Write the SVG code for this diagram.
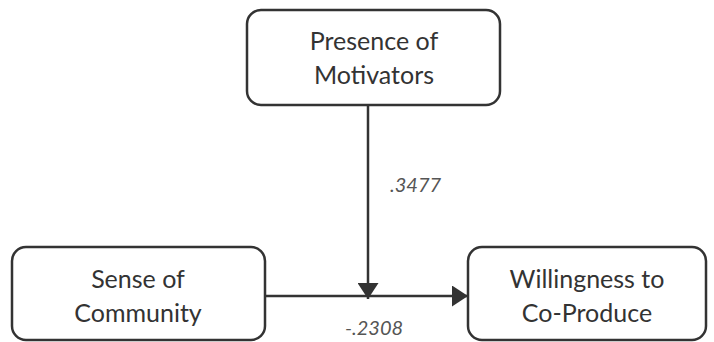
<svg xmlns="http://www.w3.org/2000/svg" width="714" height="342" viewBox="0 0 714 342">
  <defs>
    <style>
      .box { fill: #ffffff; stroke: #333333; stroke-width: 2.5; }
      .label { font-family: Lato, "Liberation Sans", sans-serif; font-size: 25px; fill: #333333; text-anchor: middle; }
      .coef { font-family: Lato, "Liberation Sans", sans-serif; font-size: 20px; font-style: italic; fill: #555555; }
      .edge { fill: none; stroke: #333333; stroke-width: 2.5; }
    </style>
    <marker id="arrow" viewBox="0 0 16 21" refX="16" refY="10.5" markerWidth="16" markerHeight="21" markerUnits="userSpaceOnUse" orient="auto">
      <path d="M0,0 L16,10.5 L0,21 Z" fill="#333333"/>
    </marker>
  </defs>
  <rect width="714" height="342" fill="#ffffff"/>

  <g id="connectors">
    <path class="edge" d="M265,296 H468" marker-end="url(#arrow)"/>
    <path class="edge" d="M368,106 V299" marker-end="url(#arrow)"/>
    <text class="coef" x="390" y="192">.3477</text>
    <text class="coef" x="345" y="335">-.2308</text>
  </g>

  <g id="node-motivators">
    <rect class="box" x="247" y="10" width="253" height="95" rx="14"/>
    <text class="label" x="374" y="50">Presence of</text>
    <text class="label" x="374" y="84">Motivators</text>
  </g>

  <g id="node-community">
    <rect class="box" x="12" y="247" width="253" height="93" rx="14"/>
    <text class="label" x="138" y="288">Sense of</text>
    <text class="label" x="138" y="322">Community</text>
  </g>

  <g id="node-willingness">
    <rect class="box" x="468" y="247" width="238" height="93" rx="14"/>
    <text class="label" x="587" y="288">Willingness to</text>
    <text class="label" x="587" y="322">Co-Produce</text>
  </g>
</svg>
